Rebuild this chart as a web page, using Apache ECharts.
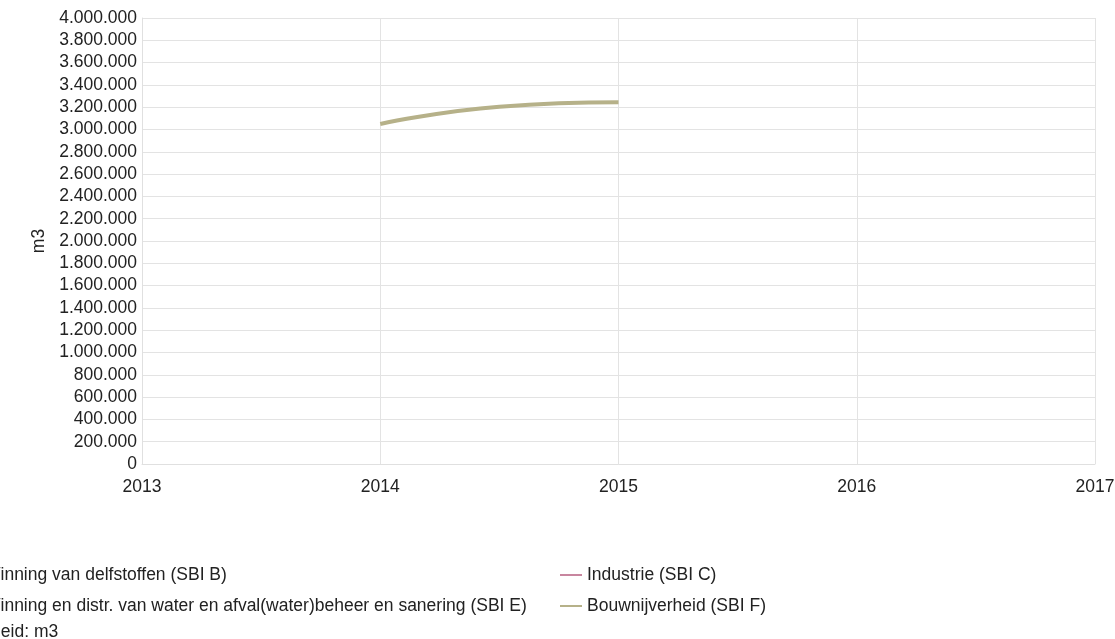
<!DOCTYPE html>
<html>
<head>
<meta charset="utf-8">
<script src="https://cdn.jsdelivr.net/npm/echarts@6/dist/echarts.min.js"></script>
<style>
  html, body { margin: 0; padding: 0; background: #fff; }
  #chart { width: 1115px; height: 639px; }
</style>
</head>
<body>
<div id="chart"></div>
<script>
// Series names (legend order: left column, right column)
const seriesNames = [
  'Winning van delfstoffen (SBI B)',
  'Industrie (SBI C)',
  'Winning en distr. van water en afval(water)beheer en sanering (SBI E)',
  'Bouwnijverheid (SBI F)'
];
const seriesColors = ['#6f8fc0', '#c8869f', '#8fb7a0', '#b6b189'];

// Bouwnijverheid (SBI F), m3 per year
const bouwYears = [2014, 2014.5, 2015];
const bouwValues = [3050000, 3205000, 3245000];

const xMin = 2013, xMax = 2017;
const yMin = 0, yMax = 4000000, yStep = 200000;

function fmtThousands(v) {
  return String(v).replace(/\B(?=(\d{3})+(?!\d))/g, '.');
}

const chart = echarts.init(document.getElementById('chart'));
const font = 'Arial, "Liberation Sans", sans-serif';
const fs = 17.5;
const textColor = '#222';

const series = seriesNames.map((name, i) => ({
  name: name,
  type: 'line',
  smooth: 0.5,
  showSymbol: false,
  symbol: 'none',
  color: seriesColors[i],
  lineStyle: { width: 4, color: seriesColors[i] },
  data: name === 'Bouwnijverheid (SBI F)'
    ? bouwYears.map((y, k) => [y, bouwValues[k]])
    : []
}));

const legendCommon = {
  orient: 'vertical',
  icon: 'rect',
  itemWidth: 22,
  itemHeight: 2,
  itemGap: 13,
  textStyle: { fontFamily: font, fontSize: fs, color: textColor },
  selectedMode: false
};

chart.setOption({
  animation: false,
  grid: { left: 142, right: 20, top: 18, bottom: 175, containLabel: false, outerBoundsMode: 'none' },
  xAxis: {
    type: 'value',
    min: xMin, max: xMax, interval: 1,
    axisLine: { show: true, lineStyle: { color: '#e0e0e0' } },
    axisTick: { show: false },
    axisLabel: { color: textColor, fontFamily: font, fontSize: fs, margin: 14,
      formatter: v => String(v) },
    splitLine: { show: true, lineStyle: { color: '#e3e3e3', width: 1 } }
  },
  yAxis: {
    type: 'value',
    min: yMin, max: yMax, interval: yStep,
    name: 'm3',
    nameLocation: 'middle',
    nameGap: 93,
    nameRotate: 90,
    nameTextStyle: { color: textColor, fontFamily: font, fontSize: fs },
    axisLine: { show: true, lineStyle: { color: '#e0e0e0' } },
    axisTick: { show: false },
    axisLabel: { color: textColor, fontFamily: font, fontSize: fs, margin: 5,
      formatter: v => fmtThousands(v) },
    splitLine: { show: true, lineStyle: { color: '#e3e3e3', width: 1 } }
  },
  legend: [
    Object.assign({}, legendCommon, { left: -48, top: 561, data: [seriesNames[0], seriesNames[2]] }),
    Object.assign({}, legendCommon, { left: 555, top: 561, data: [seriesNames[1], seriesNames[3]] })
  ],
  graphic: [{
    type: 'text',
    left: -40,
    top: 623,
    style: { text: 'Eenheid: m3', fill: textColor, font: fs + 'px ' + font }
  }],
  series: series
});
</script>
</body>
</html>
